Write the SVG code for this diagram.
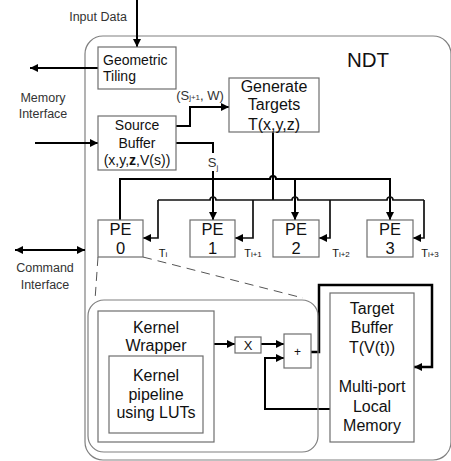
<svg xmlns="http://www.w3.org/2000/svg" width="451" height="461" viewBox="0 0 451 461">
<defs>
<marker id="ah" viewBox="0 0 10 10" refX="10" refY="5" markerWidth="9" markerHeight="8" markerUnits="userSpaceOnUse" orient="auto-start-reverse"><path d="M0,0 L10,5 L0,10 z" fill="#000"/></marker>
<style>
.box{fill:#fff;stroke:#6e6e6e;stroke-width:1.2}
.t{font-family:"Liberation Sans",Arial,sans-serif;fill:#111;text-anchor:middle}
.s14{font-size:14px}.s16{font-size:16px}.s13{font-size:13px}
.lbl{font-family:"Liberation Sans",Arial,sans-serif;fill:#333;font-size:12.5px;text-anchor:middle}
.w{fill:none;stroke:#000;stroke-width:2}
.wt{fill:none;stroke:#111;stroke-width:1.7}
.arr{marker-end:url(#ah)}
.dash{fill:none;stroke:#555;stroke-width:1;stroke-dasharray:9 6}
.sub{font-size:8px}
</style>
</defs>
<rect width="451" height="461" fill="#fff"/>
<rect x="85" y="36" width="366" height="424" rx="18" fill="none" stroke="#808080" stroke-width="1.2"/>
<text class="t" x="368" y="67" style="font-size:20.5px">NDT</text>

<g id="labels">
<text class="lbl" x="98" y="21">Input Data</text>
<text class="lbl" x="43" y="102">Memory</text>
<text class="lbl" x="43" y="118">Interface</text>
<text class="lbl" x="45" y="272">Command</text>
<text class="lbl" x="45" y="289">Interface</text>
</g>

<g id="connectors">
<path class="w arr" d="M137,0 V47"/>
<path class="w arr" d="M98,68 H30"/>
<path class="w arr" d="M35,143 H98"/>
<path class="w" d="M15,250 H85" marker-start="url(#ah)" marker-end="url(#ah)"/>
<path class="w arr" d="M176,126 H190 V107 H229"/>
<text class="lbl" x="200" y="100" style="font-size:13px">(S<tspan class="sub" dy="0">j+1</tspan>, W)</text>
<path class="w" d="M176,143 H213 V153"/>
<path class="w arr" d="M213,171 V220"/>
<text class="lbl" x="213" y="167" style="font-size:13px">S<tspan class="sub" dy="3">j</tspan></text>
<path class="w" d="M273,132 V200"/>
<path class="w arr" d="M120,220 V179 H270 a3,3 0 0 1 6,0 H390 V220"/>
<path class="w arr" d="M295,179 V220"/>
<path class="wt arr" d="M158,200 V238 H143"/>
<path class="wt" d="M158,200 H210 a3,3 0 0 1 6,0 H292 a3,3 0 0 1 6,0 H387 a3,3 0 0 1 6,0 H424"/>
<path class="wt arr" d="M424,200 V238 H413"/>
<path class="wt arr" d="M253,200 V238 H235"/>
<path class="wt arr" d="M330,200 V238 H319"/>
<text class="t" x="163" y="257" style="font-size:11px">T<tspan class="sub">i</tspan></text>
<text class="t" x="253" y="257" style="font-size:11px">T<tspan class="sub">i+1</tspan></text>
<text class="t" x="341" y="257" style="font-size:11px">T<tspan class="sub">i+2</tspan></text>
<text class="t" x="430" y="257" style="font-size:11px">T<tspan class="sub">i+3</tspan></text>
<path class="dash" d="M98,257 L95,300"/>
<path class="dash" d="M143,257 L303,298"/>
<path class="w arr" d="M214,344 H235"/>
<path class="w arr" d="M261,344 H284"/>
<path class="w arr" d="M330,409 H265 V358 H284"/>
<path class="w arr" d="M311,352 H319 V285 H432 V367 H414" style="stroke-width:2.5"/>
</g>

<g id="geometric-tiling">
<rect class="box" x="98" y="47" width="78" height="42"/>
<text class="t s14" x="103" y="65" style="text-anchor:start">Geometric</text>
<text class="t s14" x="103" y="81" style="text-anchor:start">Tiling</text>
</g>
<g id="source-buffer">
<rect class="box" x="98" y="116" width="78" height="54"/>
<text class="t s14" x="137" y="130">Source</text>
<text class="t s14" x="137" y="148">Buffer</text>
<text class="t s14" x="137" y="165">(x,y,<tspan font-weight="bold">z</tspan>,V(s))</text>
</g>
<g id="generate-targets">
<rect class="box" x="229" y="78" width="90" height="54"/>
<text class="t s16" x="274" y="92">Generate</text>
<text class="t s16" x="274" y="110">Targets</text>
<text class="t s16" x="274" y="130">T(x,y,z)</text>
</g>
<g id="pe0"><rect class="box" x="98" y="220" width="45" height="37"/><text class="t" x="120.5" y="235" style="font-size:16.5px">PE</text><text class="t" x="120.5" y="254" style="font-size:16.5px">0</text></g>
<g id="pe1"><rect class="box" x="190" y="220" width="45" height="37"/><text class="t" x="212.5" y="235" style="font-size:16.5px">PE</text><text class="t" x="212.5" y="254" style="font-size:16.5px">1</text></g>
<g id="pe2"><rect class="box" x="273" y="220" width="46" height="37"/><text class="t" x="296" y="235" style="font-size:16.5px">PE</text><text class="t" x="296" y="254" style="font-size:16.5px">2</text></g>
<g id="pe3"><rect class="box" x="367" y="220" width="46" height="37"/><text class="t" x="390" y="235" style="font-size:16.5px">PE</text><text class="t" x="390" y="254" style="font-size:16.5px">3</text></g>

<g id="pe-detail">
<rect x="88" y="300" width="230" height="152" rx="16" fill="none" stroke="#808080" stroke-width="1.2"/>
</g>
<g id="kernel-wrapper">
<rect class="box" x="98" y="311" width="116" height="131"/>
<text class="t s16" x="156" y="333">Kernel</text>
<text class="t s16" x="156" y="351">Wrapper</text>
</g>
<g id="kernel-pipeline">
<rect class="box" x="109" y="356" width="94" height="77"/>
<text class="t s16" x="156" y="381">Kernel</text>
<text class="t s16" x="156" y="400">pipeline</text>
<text class="t s16" x="156" y="418">using LUTs</text>
</g>
<g id="multiply">
<rect class="box" x="235" y="337" width="26" height="16"/>
<text class="t s13" x="248" y="350">X</text>
</g>
<g id="add">
<rect class="box" x="284" y="334" width="27" height="34"/>
<text class="t" x="297.5" y="356" style="font-size:12px">+</text>
</g>
<g id="target-buffer">
<rect class="box" x="330" y="293" width="84" height="149"/>
<text class="t s16" x="372" y="314">Target</text>
<text class="t s16" x="372" y="333">Buffer</text>
<text class="t s16" x="372" y="353">T(V(t))</text>
<text class="t s16" x="372" y="392">Multi-port</text>
<text class="t s16" x="372" y="412">Local</text>
<text class="t s16" x="372" y="431">Memory</text>
</g>
</svg>
